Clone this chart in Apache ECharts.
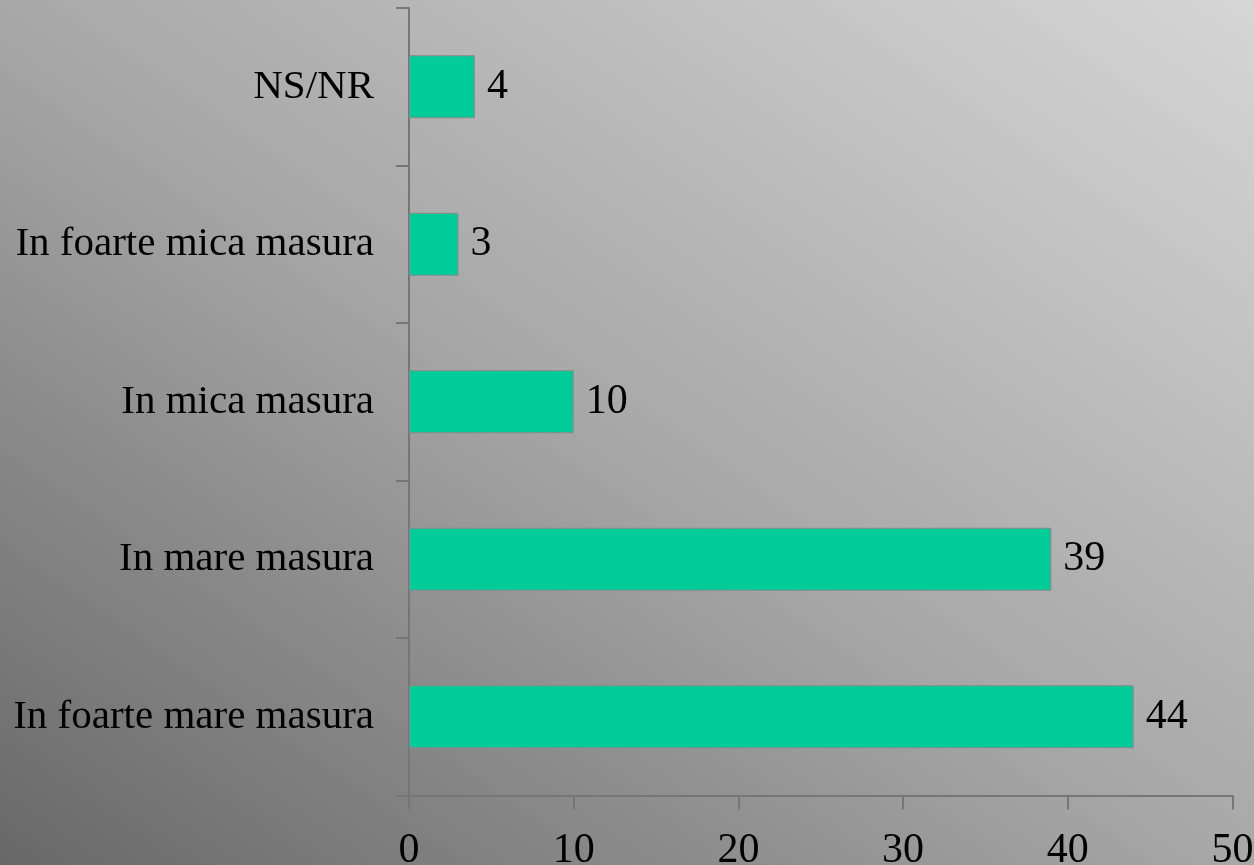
<!DOCTYPE html>
<html>
<head>
<meta charset="utf-8">
<script src="https://cdn.jsdelivr.net/npm/echarts@6/dist/echarts.min.js"></script>
<style>
html,body{margin:0;padding:0;width:1254px;height:865px;overflow:hidden;}
body{background:linear-gradient(to top right,#686868 0%,#a8a8a8 50%,#d6d6d6 100%);}
#chart{width:1254px;height:865px;}
</style>
</head>
<body>
<div id="chart"></div>
<script>
const categories = ["In foarte mare masura", "In mare masura", "In mica masura", "In foarte mica masura", "NS/NR"];
const values = [44, 39, 10, 3, 4];
const xTicks = { min: 0, max: 50, interval: 10 };

const chart = echarts.init(document.getElementById('chart'), null, { renderer: 'canvas' });
const font = '"Liberation Serif", "Times New Roman", serif';
chart.setOption({
  backgroundColor: 'transparent',
  animation: false,
  grid: { left: 409, right: 21.5, top: 8, bottom: 69.5, containLabel: false, outerBoundsMode: 'none' },
  xAxis: {
    type: 'value',
    min: xTicks.min, max: xTicks.max, interval: xTicks.interval,
    axisLine: { show: true, onZero: false, lineStyle: { color: '#767676', width: 2 } },
    axisTick: { show: true, length: 14, lineStyle: { color: '#767676', width: 2 } },
    splitLine: { show: false },
    axisLabel: { color: '#000', fontFamily: font, fontSize: 42, margin: 34 }
  },
  yAxis: {
    type: 'category',
    data: categories,
    axisLine: { show: true, lineStyle: { color: '#767676', width: 2 } },
    axisTick: { show: true, length: 13, inside: false, lineStyle: { color: '#767676', width: 2 } },
    axisLabel: { color: '#000', fontFamily: font, fontSize: 41, margin: 35 }
  },
  series: [{
    type: 'bar',
    data: values,
    barWidth: 63,
    itemStyle: { color: '#00CC99', borderColor: '#8a8a8a', borderWidth: 1 },
    label: { show: true, position: 'right', distance: 12, color: '#000', fontFamily: font, fontSize: 42 }
  }]
});
</script>
</body>
</html>
